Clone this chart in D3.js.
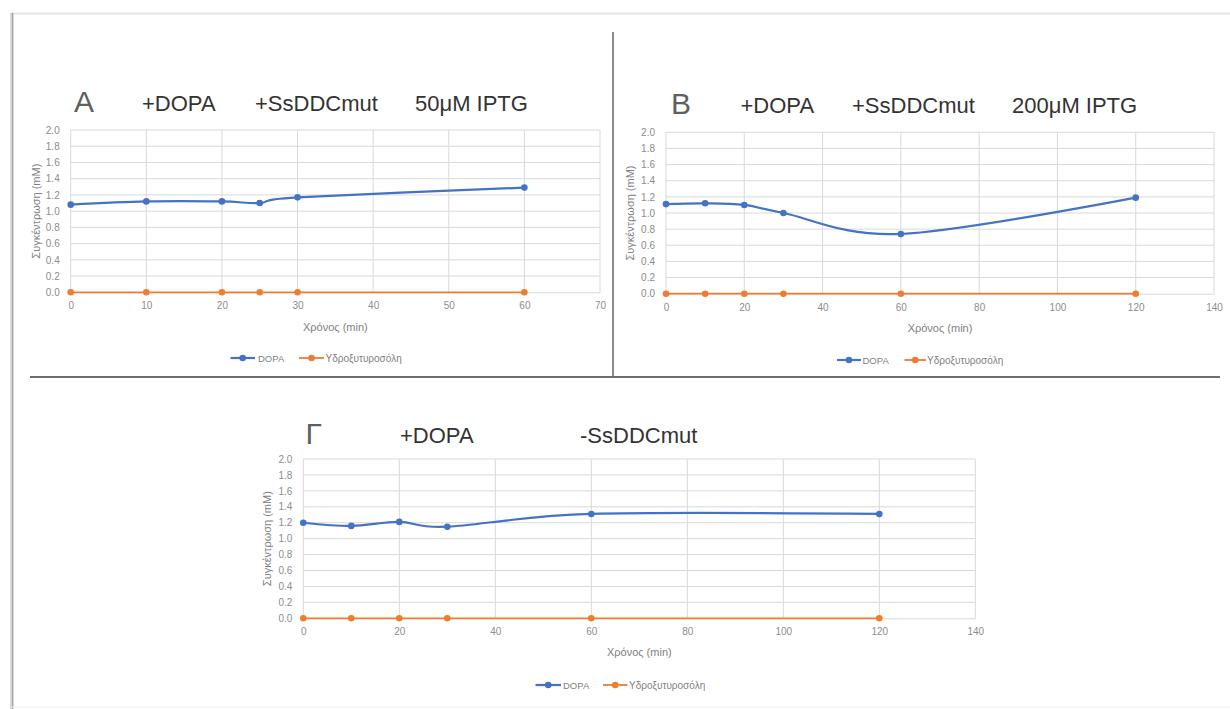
<!DOCTYPE html>
<html>
<head>
<meta charset="utf-8">
<script src="https://cdn.jsdelivr.net/npm/d3@7"></script>
<style>
  html, body { margin: 0; padding: 0; background: #ffffff; }
  svg { display: block; }
  text { font-family: "Liberation Sans", Arial, sans-serif; }
</style>
</head>
<body>
<svg id="chart" width="1230" height="709"></svg>
<script>
// ---------------- DATA ----------------
const seriesNames = ["DOPA", "Υδροξυτυροσόλη"];
const yTicks = [0, 0.2, 0.4, 0.6, 0.8, 1.0, 1.2, 1.4, 1.6, 1.8, 2.0];
const yAxisTitle = "Συγκέντρωση (mM)";
const xAxisTitle = "Χρόνος (min)";

// Panel A
const labelsA = ["A", "+DOPA", "+SsDDCmut", "50μM IPTG"];
const xTicksA = [0, 10, 20, 30, 40, 50, 60, 70];
const timeA = [0, 10, 20, 25, 30, 60];
const dopaA = [1.08, 1.12, 1.12, 1.10, 1.17, 1.29];
const hydroA = [0, 0, 0, 0, 0, 0];

// Panel B
const labelsB = ["B", "+DOPA", "+SsDDCmut", "200μM IPTG"];
const xTicksB = [0, 20, 40, 60, 80, 100, 120, 140];
const timeB = [0, 10, 20, 30, 60, 120];
const dopaB = [1.11, 1.12, 1.10, 1.00, 0.74, 1.19];
const hydroB = [0, 0, 0, 0, 0, 0];

// Panel Γ
const labelsG = ["Γ", "+DOPA", "-SsDDCmut"];
const xTicksG = [0, 20, 40, 60, 80, 100, 120, 140];
const timeG = [0, 10, 20, 30, 60, 120];
const dopaG = [1.20, 1.16, 1.21, 1.15, 1.31, 1.31];
const hydroG = [0, 0, 0, 0, 0, 0];

// ---------------- STYLE / LAYOUT ----------------
const colors = ["#4472C4", "#ED7D31"];
const lineWidths = [2.2, 1.8];
const tickColor = "#8c8c8c";
const gridColor = "#d9d9d9";

const svg = d3.select("#chart");

// page frame (screenshot shadow)
svg.append("line").attr("x1", 11).attr("x2", 1230).attr("y1", 13.5).attr("y2", 13.5)
  .attr("stroke", "#e4e4e4").attr("stroke-width", 2);
svg.append("line").attr("x1", 10.5).attr("x2", 10.5).attr("y1", 13).attr("y2", 709)
  .attr("stroke", "#d8d8d8").attr("stroke-width", 1);
svg.append("line").attr("x1", 12.5).attr("x2", 12.5).attr("y1", 13).attr("y2", 709)
  .attr("stroke", "#a9a9a9").attr("stroke-width", 2);
svg.append("line").attr("x1", 11).attr("x2", 1230).attr("y1", 707).attr("y2", 707)
  .attr("stroke", "#efefef").attr("stroke-width", 1);

// separators
svg.append("line").attr("x1", 613).attr("x2", 613).attr("y1", 32).attr("y2", 377)
  .attr("stroke", "#8a8a8a").attr("stroke-width", 2);
svg.append("line").attr("x1", 30).attr("x2", 1220).attr("y1", 377).attr("y2", 377)
  .attr("stroke", "#6e6e6e").attr("stroke-width", 2);

const panels = [
  {
    time: timeA, dopa: dopaA, hydro: hydroA, xTicks: xTicksA, labels: labelsA,
    plot: { left: 70.7, right: 600, top: 130, bottom: 292.3 },
    titleY: 111, titleX: [74, 142, 255, 415],
    yTitleX: 36, xTitleY: 331, legendY: 358,
    legend: [{ x1: 230.5, x2: 255, tx: 258 }, { x1: 299, x2: 324, tx: 325.5 }]
  },
  {
    time: timeB, dopa: dopaB, hydro: hydroB, xTicks: xTicksB, labels: labelsB,
    plot: { left: 666, right: 1214, top: 132.3, bottom: 293.7 },
    titleY: 112.7, titleX: [671, 740.5, 852, 1012],
    yTitleX: 630, xTitleY: 332, legendY: 360,
    legend: [{ x1: 837, x2: 861, tx: 862.5 }, { x1: 904.5, x2: 926, tx: 927 }]
  },
  {
    time: timeG, dopa: dopaG, hydro: hydroG, xTicks: xTicksG, labels: labelsG,
    plot: { left: 303.3, right: 975.3, top: 459, bottom: 618.3 },
    titleY: 443, titleX: [305.5, 400, 580],
    yTitleX: 267, xTitleY: 656, legendY: 685,
    legend: [{ x1: 535.5, x2: 561, tx: 563 }, { x1: 603, x2: 627.5, tx: 629 }]
  }
];

panels.forEach(p => {
  const g = svg.append("g");
  const x = d3.scaleLinear().domain([p.xTicks[0], p.xTicks[p.xTicks.length - 1]])
    .range([p.plot.left, p.plot.right]);
  const y = d3.scaleLinear().domain([0, 2]).range([p.plot.bottom, p.plot.top]);

  // gridlines
  g.append("g").selectAll("line.hg").data(yTicks.slice(1)).join("line")
    .attr("x1", p.plot.left).attr("x2", p.plot.right)
    .attr("y1", d => y(d)).attr("y2", d => y(d))
    .attr("stroke", gridColor).attr("stroke-width", 1);
  g.append("g").selectAll("line.vg").data(p.xTicks).join("line")
    .attr("x1", d => x(d)).attr("x2", d => x(d))
    .attr("y1", p.plot.top).attr("y2", p.plot.bottom)
    .attr("stroke", gridColor).attr("stroke-width", 1);

  // axes
  const yAxis = d3.axisLeft(y).tickValues(yTicks).tickFormat(d3.format(".1f"))
    .tickSize(0).tickPadding(11);
  const ya = g.append("g").attr("transform", `translate(${p.plot.left},0)`).call(yAxis);
  ya.select(".domain").remove();
  ya.selectAll("text").attr("fill", tickColor).style("font-size", "10px")
    .style("font-family", "Liberation Sans, Arial, sans-serif");

  const xAxis = d3.axisBottom(x).tickValues(p.xTicks).tickFormat(d3.format("d"))
    .tickSize(0).tickPadding(10);
  const xa = g.append("g").attr("transform", `translate(0,${p.plot.bottom})`).call(xAxis);
  xa.select(".domain").attr("stroke", gridColor);
  xa.selectAll("text").attr("fill", tickColor).style("font-size", "10px")
    .style("font-family", "Liberation Sans, Arial, sans-serif");

  // axis titles
  const cy = (p.plot.top + p.plot.bottom) / 2;
  g.append("text").attr("transform", `translate(${p.yTitleX + 4},${cy}) rotate(-90)`)
    .attr("text-anchor", "middle").attr("fill", "#808080").style("font-size", "11px")
    .text(yAxisTitle);
  g.append("text").attr("x", (p.plot.left + p.plot.right) / 2).attr("y", p.xTitleY)
    .attr("text-anchor", "middle").attr("fill", "#808080").style("font-size", "11px")
    .text(xAxisTitle);

  // series
  const series = [p.dopa, p.hydro];
  series.forEach((vals, si) => {
    const pts = p.time.map((t, i) => [t, vals[i]]);
    const line = d3.line().x(d => x(d[0])).y(d => y(d[1])).curve(d3.curveCardinal.tension(0));
    g.append("path").datum(pts).attr("d", line).attr("fill", "none")
      .attr("stroke", colors[si]).attr("stroke-width", lineWidths[si]);
    g.append("g").selectAll("circle").data(pts).join("circle")
      .attr("cx", d => x(d[0])).attr("cy", d => y(d[1])).attr("r", 3.3)
      .attr("fill", colors[si]);
  });

  // titles
  p.labels.forEach((lab, i) => {
    const isLetter = i === 0;
    g.append("text").attr("x", p.titleX[i]).attr("y", p.titleY + (isLetter ? 1 : 0))
      .attr("fill", isLetter ? "#5f5f5f" : "#333333")
      .style("font-size", isLetter ? "30px" : "22px")
      .style("font-weight", isLetter ? "300" : "400")
      .text(lab);
  });

  // legend
  p.legend.forEach((l, si) => {
    g.append("line").attr("x1", l.x1).attr("x2", l.x2).attr("y1", p.legendY).attr("y2", p.legendY)
      .attr("stroke", colors[si]).attr("stroke-width", lineWidths[si]);
    g.append("circle").attr("cx", (l.x1 + l.x2) / 2).attr("cy", p.legendY).attr("r", 3.3)
      .attr("fill", colors[si]);
    g.append("text").attr("x", l.tx).attr("y", p.legendY + 3.5)
      .attr("fill", "#7f7f7f").style("font-size", si === 0 ? "9.5px" : "10px")
      .text(seriesNames[si]);
  });
});
</script>
</body>
</html>
